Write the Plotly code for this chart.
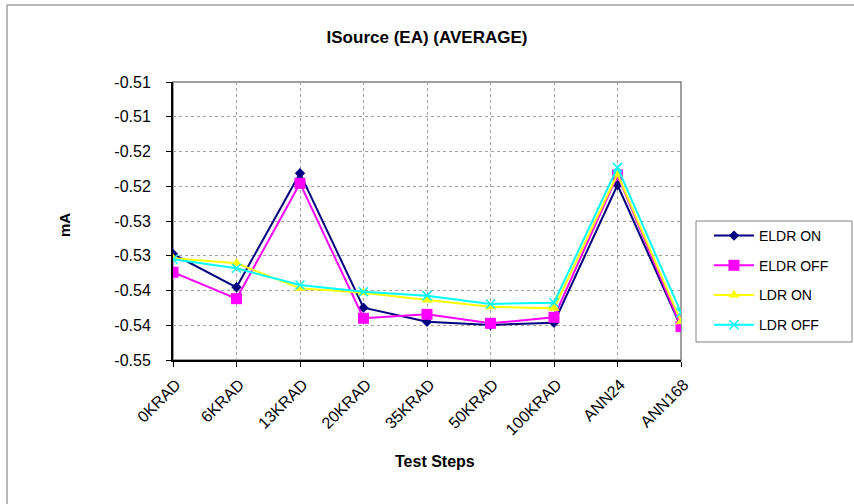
import plotly.graph_objects as go

# Test steps along the x axis
steps = ["0KRAD", "6KRAD", "13KRAD", "20KRAD", "35KRAD", "50KRAD", "100KRAD", "ANN24", "ANN168"]

# Average source current (mA) per bias condition
eldr_on = [-0.53475, -0.53954, -0.52314, -0.54247, -0.54449, -0.54496, -0.54463, -0.52482, -0.54525]
eldr_off = [-0.53738, -0.54118, -0.52458, -0.54400, -0.54343, -0.54472, -0.54386, -0.52338, -0.54520]
ldr_on = [-0.53537, -0.53609, -0.53969, -0.54031, -0.54137, -0.54233, -0.54257, -0.52324, -0.54449]
ldr_off = [-0.53551, -0.53681, -0.53921, -0.54017, -0.54074, -0.54194, -0.54175, -0.52228, -0.54319]

# Y tick positions and their two-decimal labels
y_ticks = [-0.550, -0.545, -0.540, -0.535, -0.530, -0.525, -0.520, -0.515, -0.510]
y_labels = ["-0.55", "-0.54", "-0.54", "-0.53", "-0.53", "-0.52", "-0.52", "-0.51", "-0.51"]

series = [
    ("ELDR ON", eldr_on, "#000080", "diamond", 8),
    ("ELDR OFF", eldr_off, "#FF00FF", "square", 11),
    ("LDR ON", ldr_on, "#FFFF00", "triangle-up", 10),
    ("LDR OFF", ldr_off, "#00FFFF", "x-thin", 9),
]

fig = go.Figure()
for name, vals, color, symbol, size in series:
    marker = dict(symbol=symbol, size=size, color=color)
    if symbol == "x-thin":
        marker["line"] = dict(color=color, width=1.5)
    fig.add_trace(go.Scatter(
        x=steps, y=vals, name=name, mode="lines+markers",
        line=dict(color=color, width=2), marker=marker,
        legendgroup=name,
    ))

L, R, T, B = 173, 173, 82, 144
PW, PH = 854 - L - R, 504 - T - B


def px_x(p):
    return (p - L) / PW


def px_y(p):
    return (504 - B - p) / PH


shapes = [
    # gray frame on top/right of plot area
    dict(type="rect", xref="paper", yref="paper", x0=0, x1=1, y0=0, y1=1,
         line=dict(color="#808080", width=1.5), layer="below"),
    # legend frame
    dict(type="rect", xref="paper", yref="paper", x0=px_x(696), x1=px_x(852),
         y0=px_y(342), y1=px_y(221), line=dict(color="#808080", width=1)),
    # outer chart border
    dict(type="line", xref="paper", yref="paper", x0=px_x(7), x1=px_x(860),
         y0=px_y(5), y1=px_y(5), line=dict(color="#A0A0A0", width=1.5)),
    dict(type="line", xref="paper", yref="paper", x0=px_x(7), x1=px_x(7),
         y0=px_y(5), y1=px_y(510), line=dict(color="#A0A0A0", width=1.5)),
]

annotations = [
    dict(text="<b>Test Steps</b>", xref="paper", yref="paper", x=px_x(435), y=px_y(461),
         xanchor="center", yanchor="middle", showarrow=False,
         font=dict(family="Arial, Liberation Sans", size=16, color="black")),
    dict(text="<b>mA</b>", xref="paper", yref="paper", x=px_x(64), y=px_y(225),
         xanchor="center", yanchor="middle", showarrow=False, textangle=-90,
         font=dict(family="Arial, Liberation Sans", size=15, color="black")),
]

fig.update_layout(
    width=854, height=504,
    margin=dict(l=L, r=R, t=T, b=B),
    paper_bgcolor="white", plot_bgcolor="white",
    font=dict(family="Arial, Liberation Sans", color="black"),
    title=dict(text="<b>ISource (EA) (AVERAGE)</b>", x=0.5, xref="paper", xanchor="center",
               y=1 - 37 / 504, yanchor="middle",
               font=dict(size=17, color="black")),
    showlegend=True,
    legend=dict(x=px_x(709), y=px_y(220), xanchor="left", yanchor="top",
                borderwidth=0, bgcolor="rgba(0,0,0,0)",
                font=dict(size=14, color="black"), tracegroupgap=8.5,
                traceorder="grouped", itemwidth=40),
    shapes=shapes,
    annotations=annotations,
)

fig.update_xaxes(
    type="category", range=[0, 8],
    showgrid=True, gridcolor="#A0A0A0", gridwidth=1, griddash="dot",
    showline=True, linecolor="black", linewidth=2,
    ticks="outside", ticklen=5, tickcolor="black",
    tickangle=-45, tickfont=dict(size=16, color="black"),
    ticklabelshift=3, ticklabelstandoff=2,
    zeroline=False,
)
fig.update_yaxes(
    range=[-0.55, -0.51], tickvals=y_ticks, ticktext=y_labels,
    showgrid=True, gridcolor="#A0A0A0", gridwidth=1, griddash="dot",
    showline=True, linecolor="black", linewidth=2,
    ticks="outside", ticklen=5, tickcolor="black",
    tickfont=dict(size=16, color="black"), ticklabelstandoff=12,
    zeroline=False,
)

fig.write_html("out.html")
